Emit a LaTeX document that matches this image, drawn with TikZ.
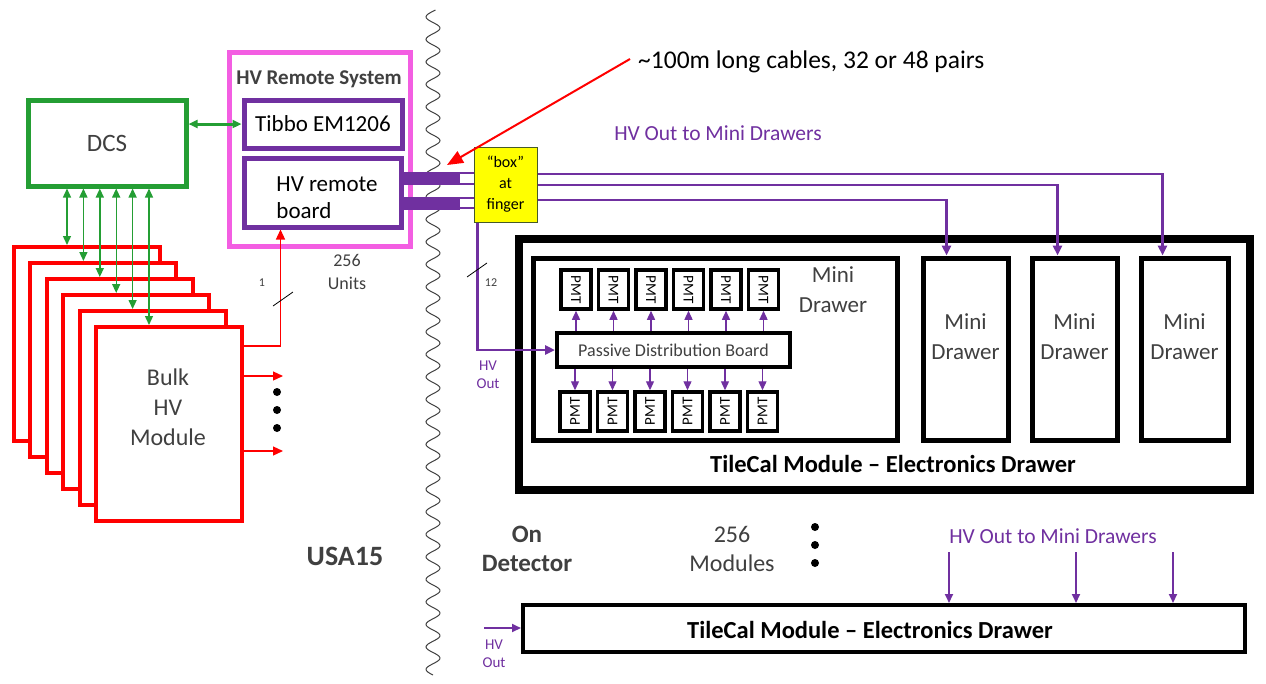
\documentclass[tikz,border=0pt]{standalone}
\usepackage{fontspec}
\setmainfont{Carlito}
\usetikzlibrary{arrows.meta, positioning, calc}
\definecolor{HVpurple}{RGB}{112,48,160}
\definecolor{DCSgreen}{RGB}{36,158,52}
\definecolor{RSpink}{RGB}{243,94,226}
\definecolor{FingerYellow}{RGB}{255,255,0}
\definecolor{FingerEdge}{RGB}{70,90,40}
\definecolor{TxtGray}{RGB}{64,64,64}
\newcommand{\fsz}[2]{\fontsize{#1}{#2}\selectfont}

\begin{document}
\begin{tikzpicture}[x=1pt, y=-1pt,
  box/.style={draw, fill=white, inner sep=0pt, align=center},
  sz/.style 2 args={minimum width=#1, minimum height=#2},
  txt/.style={inner sep=0pt, align=center},
  garrow/.style={DCSgreen, line width=1.4pt, {Triangle[length=9pt,width=8pt]}-{Triangle[length=9pt,width=8pt]}},
  rarrow/.style={red, line width=1.2pt, -{Triangle[length=10pt,width=9pt]}},
  parrow/.style={HVpurple, line width=1.8pt, -{Triangle[length=9pt,width=8pt]}},
  cable/.style={HVpurple, line width=2.6pt, -{Triangle[length=10pt,width=9pt]}},
  pmtbox/.style={box, line width=3.5pt, sz={30}{39}, font=\fsz{15}{15}},
  mdbox/.style={box, line width=5pt},
  page/.style={box, draw=red, line width=4pt, sz={146}{194}},
]
  \useasboundingbox (0,0) rectangle (1266,683);
  \fill[white] (0,0) rectangle (1266,683);

  % wavy border USA15 / detector
  \draw[black!75, line width=1pt] plot[domain=10:675, samples=500, smooth]
    ({433+7*sin(16*\x)},\x);

  % HV remote system
  \node[box, draw=RSpink, line width=5pt, sz={181}{194}] (rsys) at (319.5,149) {};
  \node[txt, font=\fsz{21}{21}\bfseries, text=TxtGray] (rstitle) at (319,79) {HV Remote System};
  \node[box, draw=HVpurple, line width=5pt, sz={158}{48}, font=\fsz{23}{23}] (tibbo) at (323,124) {Tibbo EM1206};
  \node[box, draw=HVpurple, line width=5pt, sz={157}{69}] (board) at (322.5,192.5) {};
  \node[txt, align=left, font=\fsz{23}{27}] (boardl) at (327,198) {HV remote\\board};

  % DCS
  \node[box, draw=DCSgreen, line width=5pt, sz={158}{86}, font=\fsz{25}{25}, text=TxtGray] (dcs) at (107,143) {DCS};
  \draw[garrow, line width=3pt] (tibbo.west) -- (tibbo.west -| dcs.east);

  % bulk HV module pages
  \foreach \i in {1,...,6}{
    \node[page] (p\i) at ({87+16.4*(\i-1)},{344+16*(\i-1)}) {};
  }
  \node[txt, font=\fsz{24}{30}, text=TxtGray] (bulk) at (168,407) {Bulk\\HV\\Module};
  \foreach \i in {1,...,6}{
    \coordinate (g\i) at ($(p\i.north west)+(55,0)$);
    \draw[garrow] (g\i |- dcs.south) -- (g\i);
  }

  % outputs of the bulk modules
  \coordinate (r1) at (283,376);
  \coordinate (r2) at (283,451);
  \draw[rarrow] ($(p6.north east)+(0,21)$) -| ($(board.south west)+(39,0)$);
  \draw[rarrow] (r1 -| p6.east) -- (r1);
  \draw[rarrow] (r2 -| p6.east) -- (r2);
  \foreach \y in {392,410,428}{
    \fill (277,\y) circle (4);
  }
  \draw[line width=0.8pt] (273,306) -- (293,292);
  \node[txt, font=\fsz{12}{12}, text=TxtGray] (n1) at (262,283) {1};
  \node[txt, font=\fsz{18}{23}, text=TxtGray] (units) at (347,272) {256\\Units};

  % TileCal module with mini drawers
  \node[box, line width=8pt, sz={731}{251}] (tile) at (884.5,364.5) {};
  \node[txt, font=\fsz{24.5}{24.5}\bfseries] (tilelbl) at (893,464) {TileCal Module -- Electronics Drawer};
  \node[mdbox, sz={364}{182}] (md1) at (715,349) {};
  \node[txt, font=\fsz{23}{30}, text=TxtGray] (md1l) at (833,290) {Mini\\Drawer};
  \node[mdbox, sz={85}{182}] (md2) at (965.5,349) {};
  \node[mdbox, sz={85}{182}] (md3) at (1074.5,349) {};
  \node[mdbox, sz={87}{182}] (md4) at (1184.5,349) {};
  \foreach \m in {md2,md3,md4}{
    \node[txt, font=\fsz{23}{30}, text=TxtGray] at ($(\m.center)+(0,-12)$) {Mini\\Drawer};
  }

  % passive distribution board and PMTs
  \node[box, line width=4pt, sz={233}{34}, font=\fsz{18}{18}, text=TxtGray] (pdb) at (673.5,350) {Passive Distribution Board};
  \foreach \i in {1,...,6}{
    \node[pmtbox] (pt\i) at ({576+37.5*(\i-1)},289.5) {\rotatebox{-90}{PMT}};
    \node[pmtbox] (pb\i) at ({575+37.5*(\i-1)},411.5) {\rotatebox{90}{PMT}};
    \draw[parrow, line width=1.3pt] (pdb.north -| pt\i) -- (pt\i.south);
    \draw[parrow, line width=1.3pt] (pdb.south -| pb\i) -- (pb\i.north);
  }

  % cables from HV remote board to the finger box
  \fill[HVpurple] (401,172) rectangle (460,185);
  \fill[HVpurple] (401,197) rectangle (460,210);
  \foreach \y in {173,184,198,208}{
    \draw[HVpurple, line width=2.4pt] (460,\y) -- (474,\y);
  }
  \node[box, fill=FingerYellow, draw=FingerEdge, line width=1pt, sz={63}{75}, font=\fsz{16}{21}] (finger) at (505.5,184.5) {“box”\\at\\finger};

  % HV out to the mini drawers
  \draw[cable] ($(finger.east)+(0,-10.5)$) -| ($(md4.north west)+(24,0)$);
  \draw[cable] ($(finger.east)+(0,0.5)$) -| ($(md3.north west)+(28,0)$);
  \draw[cable] ($(finger.east)+(0,15.5)$) -| ($(md2.north west)+(26,0)$);
  \draw[cable] ($(finger.south west)+(4,0)$) |- (pdb.west);
  \draw[line width=0.8pt] (467,277) -- (487,263);
  \node[txt, font=\fsz{12}{12}, text=TxtGray] (n12) at (491,283) {12};
  \node[txt, font=\fsz{15}{18}, text=HVpurple] (hvout1) at (488,375) {HV\\Out};
  \node[txt, font=\fsz{21.5}{21.5}, text=HVpurple] (hvmd1) at (718,133) {HV Out to Mini Drawers};

  % long cables note
  \node[txt, anchor=west, font=\fsz{25.5}{25.5}] (cables) at (638,62) {\textasciitilde100m long cables, 32 or 48 pairs};
  \coordinate (fingtip) at (447,165);
  \draw[red, line width=2pt, -{Triangle[length=16pt,width=13pt]}] ($(cables.west)+(-8,-3)$) -- (fingtip);

  % lower part: the other modules
  \node[txt, font=\fsz{28}{28}\bfseries, text=TxtGray] (usa) at (345,556) {USA15};
  \node[txt, font=\fsz{25}{29}\bfseries, text=TxtGray] (ondet) at (527,549) {On\\Detector};
  \node[txt, font=\fsz{24}{29}, text=TxtGray] (nmod) at (732,549) {256\\Modules};
  \foreach \y in {527,545,563}{
    \fill (815,\y) circle (4);
  }
  \node[txt, font=\fsz{21.5}{21.5}, text=HVpurple] (hvmd2) at (1053,536) {HV Out to Mini Drawers};
  \node[box, line width=4pt, sz={722}{47}] (tile2) at (884,628.5) {};
  \node[txt, font=\fsz{24.5}{24.5}\bfseries] (tile2lbl) at (870,630) {TileCal Module -- Electronics Drawer};
  \foreach \x in {949,1076,1173}{
    \coordinate (t\x) at (\x,552);
    \draw[parrow] (t\x) -- (t\x |- tile2.north);
  }
  \coordinate (hvin) at (484,628);
  \draw[parrow] (hvin) -- (hvin -| tile2.west);
  \node[txt, font=\fsz{15}{18}, text=HVpurple] (hvout2) at (494,654) {HV\\Out};
\end{tikzpicture}
\end{document}
